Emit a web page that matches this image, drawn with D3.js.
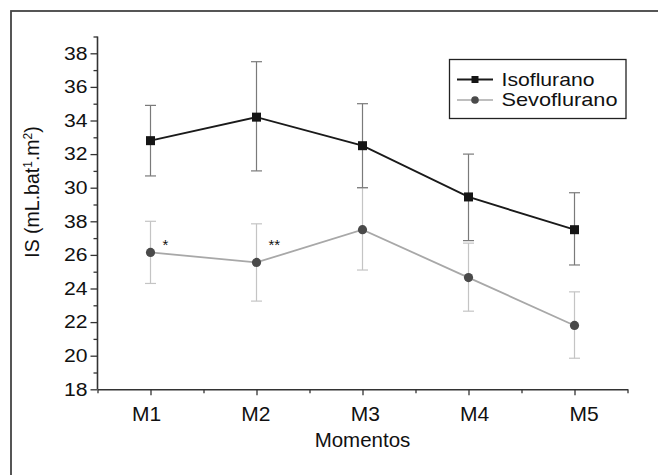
<!DOCTYPE html>
<html>
<head>
<meta charset="utf-8">
<script src="https://cdnjs.cloudflare.com/ajax/libs/d3/7.8.5/d3.min.js"></script>
<style>
  body { margin: 0; background: #fff; }
  svg { display: block; font-family: "Liberation Sans", Arial, sans-serif; }
</style>
</head>
<body>
<div id="chart"></div>
<script>
// chart data
const momentos = ['M1', 'M2', 'M3', 'M4', 'M5'];
const isoMean = [32.8, 34.2, 32.5, 29.45, 27.5];
const isoUpper = [34.9, 37.5, 35.0, 32.0, 29.7];
const isoLower = [30.7, 31.0, 30.0, 26.85, 25.4];
const sevoMean = [26.15, 25.55, 27.5, 24.65, 21.8];
const sevoUpper = [28.0, 27.85, 30.0, 26.7, 23.8];
const sevoLower = [24.3, 23.25, 25.1, 22.65, 19.85];
const yTickValues = [18, 20, 22, 24, 26, 28, 30, 32, 34, 36, 38];
// as printed in the original figure (28 is labelled "38")
const yTickLabels = ['18', '20', '22', '24', '26', '38', '30', '32', '34', '36', '38'];
const yMinorTicks = [19, 21, 23, 25, 27, 29, 31, 33, 35, 37, 39];
const marks = [{ idx: 0, text: '*' }, { idx: 1, text: '**' }];
const markLevel = 26.3;
const seriesNames = ['Isoflurano', 'Sevoflurano'];

const width = 658, height = 475;
const svg = d3.select('#chart').append('svg')
    .attr('width', width)
    .attr('height', height);

// outer frame (cropped on right and bottom in the original)
svg.append('rect')
    .attr('x', 11).attr('y', 11)
    .attr('width', 660).attr('height', 480)
    .attr('fill', 'none')
    .attr('stroke', '#444')
    .attr('stroke-width', 1.8);

const x = d3.scaleLinear().domain([0.5, 5.5]).range([97.5, 627.5]);
// labels under the ticks sit on a slightly wider spread in the original
const xLabel = d3.scaleLinear().domain([1, 5]).range([146, 583.5]);
const y = d3.scaleLinear().domain([18, 38]).range([389.3, 53.3]);
const yTop = 39;

// axes
const xAxis = d3.axisBottom(x)
    .tickValues(momentos.map((d, i) => i + 1))
    .tickFormat(d => momentos[d - 1])
    .tickSize(6).tickSizeOuter(0).tickPadding(11);
const xMinor = d3.axisBottom(x)
    .tickValues([0.5, 1.5, 2.5, 3.5, 4.5, 5.5])
    .tickFormat('')
    .tickSize(4).tickSizeOuter(0);

const gx = svg.append('g').attr('transform', `translate(0,${y(18)})`).call(xAxis);
gx.selectAll('.tick text')
    .attr('font-size', '21px')
    .attr('x', d => xLabel(d) - x(d));
svg.append('g').attr('transform', `translate(0,${y(18)})`).call(xMinor)
    .select('.domain').remove();

const yAxis = d3.axisLeft(y)
    .tickValues(yTickValues)
    .tickFormat((d, i) => yTickLabels[i])
    .tickSize(7).tickSizeOuter(0).tickPadding(3);
const yMinor = d3.axisLeft(y)
    .tickValues(yMinorTicks)
    .tickFormat('')
    .tickSize(4).tickSizeOuter(0);

const gy = svg.append('g').attr('transform', `translate(${x(0.5)},0)`).call(yAxis);
gy.select('.domain').attr('d', `M0,${y(18)}V${y(yTop)}`);
gy.selectAll('.tick text')
    .attr('font-size', '18px')
    .attr('textLength', 23.5)
    .attr('lengthAdjust', 'spacingAndGlyphs');
svg.append('g').attr('transform', `translate(${x(0.5)},0)`).call(yMinor)
    .select('.domain').remove();

svg.selectAll('.domain').attr('stroke', '#333').attr('stroke-width', 1.6);
svg.selectAll('.tick line').attr('stroke', '#333').attr('stroke-width', 1.3);
svg.selectAll('.tick text')
    .attr('fill', '#111')
    .attr('font-family', '"Liberation Sans", Arial, sans-serif');

// axis labels
svg.append('text')
    .attr('x', x(3)).attr('y', 446.5)
    .attr('text-anchor', 'middle')
    .attr('font-size', '20.5px')
    .attr('fill', '#111')
    .text('Momentos');

const yl = svg.append('text')
    .attr('transform', 'translate(38.5,192) rotate(-90)')
    .attr('text-anchor', 'middle')
    .attr('font-size', '19.5px')
    .attr('fill', '#111');
yl.append('tspan').text('IS (mL.bat');
yl.append('tspan').attr('font-size', '12px').attr('dy', -7).text('1');
yl.append('tspan').attr('dy', 7).text('.m');
yl.append('tspan').attr('font-size', '12px').attr('dy', -7).text('2');
yl.append('tspan').attr('dy', 7).text(')');

// error bars
function errorBars(upper, lower, color) {
    const g = svg.append('g').attr('stroke', color).attr('stroke-width', 1.2).attr('fill', 'none');
    momentos.forEach((m, i) => {
        const cx = x(i + 1);
        g.append('line').attr('x1', cx).attr('x2', cx).attr('y1', y(upper[i])).attr('y2', y(lower[i]));
        g.append('line').attr('x1', cx - 5.5).attr('x2', cx + 5.5).attr('y1', y(upper[i])).attr('y2', y(upper[i]));
        g.append('line').attr('x1', cx - 5.5).attr('x2', cx + 5.5).attr('y1', y(lower[i])).attr('y2', y(lower[i]));
    });
}
errorBars(sevoUpper, sevoLower, '#c4c4c4');
errorBars(isoUpper, isoLower, '#7a7a7a');

const line = d3.line().x((d, i) => x(i + 1)).y(d => y(d));

// Sevoflurano
svg.append('path')
    .datum(sevoMean)
    .attr('d', line)
    .attr('fill', 'none')
    .attr('stroke', '#a8a8a8')
    .attr('stroke-width', 1.8);
svg.selectAll('.sevo')
    .data(sevoMean)
    .enter()
    .append('circle')
    .attr('class', 'sevo')
    .attr('cx', (d, i) => x(i + 1))
    .attr('cy', d => y(d))
    .attr('r', 4.6)
    .attr('fill', '#4a4a4a');

// Isoflurano
svg.append('path')
    .datum(isoMean)
    .attr('d', line)
    .attr('fill', 'none')
    .attr('stroke', '#1a1a1a')
    .attr('stroke-width', 1.9);
svg.selectAll('.iso')
    .data(isoMean)
    .enter()
    .append('rect')
    .attr('class', 'iso')
    .attr('x', (d, i) => x(i + 1) - 4.5)
    .attr('y', d => y(d) - 4.5)
    .attr('width', 9)
    .attr('height', 9)
    .attr('fill', '#151515');

// significance marks
svg.selectAll('.mark')
    .data(marks)
    .enter()
    .append('text')
    .attr('x', d => x(d.idx + 1) + 12)
    .attr('y', y(markLevel))
    .attr('font-size', '15px')
    .attr('fill', '#111')
    .text(d => d.text);

// legend
const lg = svg.append('g');
lg.append('rect')
    .attr('x', 449.5).attr('y', 59.5)
    .attr('width', 176.5).attr('height', 59)
    .attr('fill', '#fff')
    .attr('stroke', '#222')
    .attr('stroke-width', 1.3);
const rows = [79.5, 100];
lg.append('line').attr('x1', 457).attr('x2', 493).attr('y1', rows[0]).attr('y2', rows[0])
    .attr('stroke', '#1a1a1a').attr('stroke-width', 1.9);
lg.append('rect').attr('x', 471.5).attr('y', rows[0] - 3.5).attr('width', 7).attr('height', 7).attr('fill', '#151515');
lg.append('line').attr('x1', 457).attr('x2', 493).attr('y1', rows[1]).attr('y2', rows[1])
    .attr('stroke', '#a8a8a8').attr('stroke-width', 1.6);
lg.append('circle').attr('cx', 475).attr('cy', rows[1]).attr('r', 3.8).attr('fill', '#4a4a4a');
lg.selectAll('.ltext')
    .data(seriesNames)
    .enter()
    .append('text')
    .attr('x', 501.5)
    .attr('y', (d, i) => rows[i] + 6.3)
    .attr('font-size', '19px')
    .attr('textLength', (d, i) => [93, 116][i])
    .attr('lengthAdjust', 'spacingAndGlyphs')
    .attr('fill', '#111')
    .text(d => d);
</script>
</body>
</html>
